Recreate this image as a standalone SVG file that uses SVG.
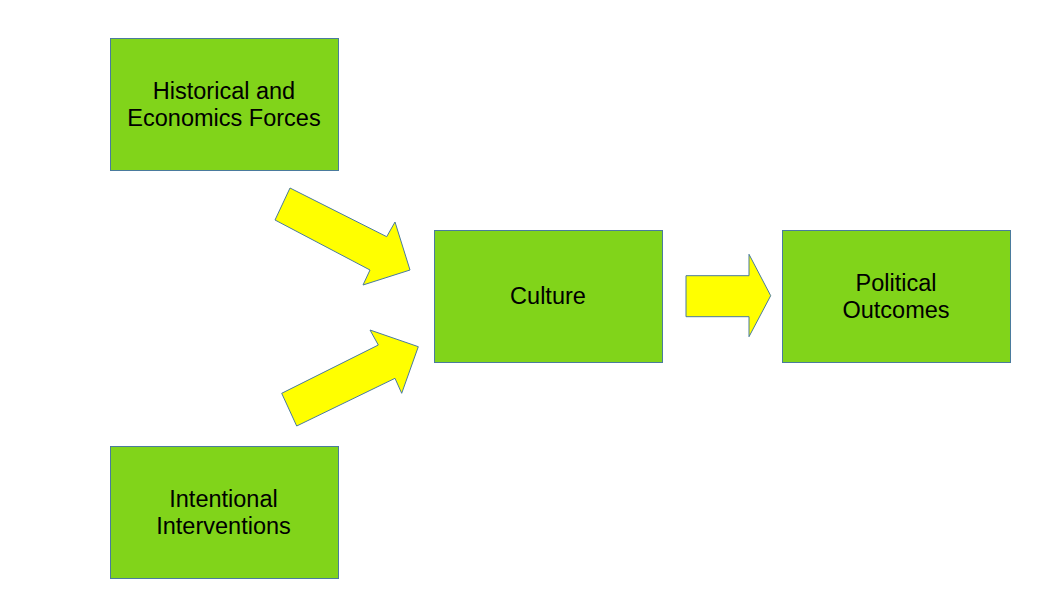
<svg xmlns="http://www.w3.org/2000/svg" width="1038" height="606" viewBox="0 0 1038 606">
<style>
.box{fill:#81d41a;stroke:#4a7b9d;stroke-width:1}
.arr{fill:#ffff00;stroke:#4a7b9d;stroke-width:1;stroke-linejoin:miter}
.t{font-family:"Liberation Sans",Arial,sans-serif;font-size:23.5px;fill:#000;text-anchor:middle}
</style>
<rect width="1038" height="606" fill="#fff"/>
<g id="historical"><rect class="box" x="110.5" y="38.5" width="228" height="132"/><text class="t" x="224" y="99">Historical and</text><text class="t" x="224" y="126">Economics Forces</text></g>
<g id="intentional"><rect class="box" x="110.5" y="446.5" width="228" height="132"/><text class="t" x="223.5" y="507">Intentional</text><text class="t" x="223.5" y="534">Interventions</text></g>
<g id="culture"><rect class="box" x="434.5" y="230.5" width="228" height="132"/><text class="t" x="548" y="304">Culture</text></g>
<g id="political"><rect class="box" x="782.5" y="230.5" width="228" height="132"/><text class="t" x="896" y="291">Political</text><text class="t" x="896" y="318">Outcomes</text></g>
<g id="connectors">
<polygon class="arr" points="290,188 386.7,236.7 395,222 410,270 363,285 370,270 275,220"/>
<polygon class="arr" points="296.7,426 395,378.3 401.7,393.3 418.3,346.7 370,330 378.3,345 281.7,393.3"/>
<polygon class="arr" points="686,275.7 749,275.7 749,254.3 770.7,295.7 749,336.7 749,316.7 686,316.7"/>
</g>
</svg>
